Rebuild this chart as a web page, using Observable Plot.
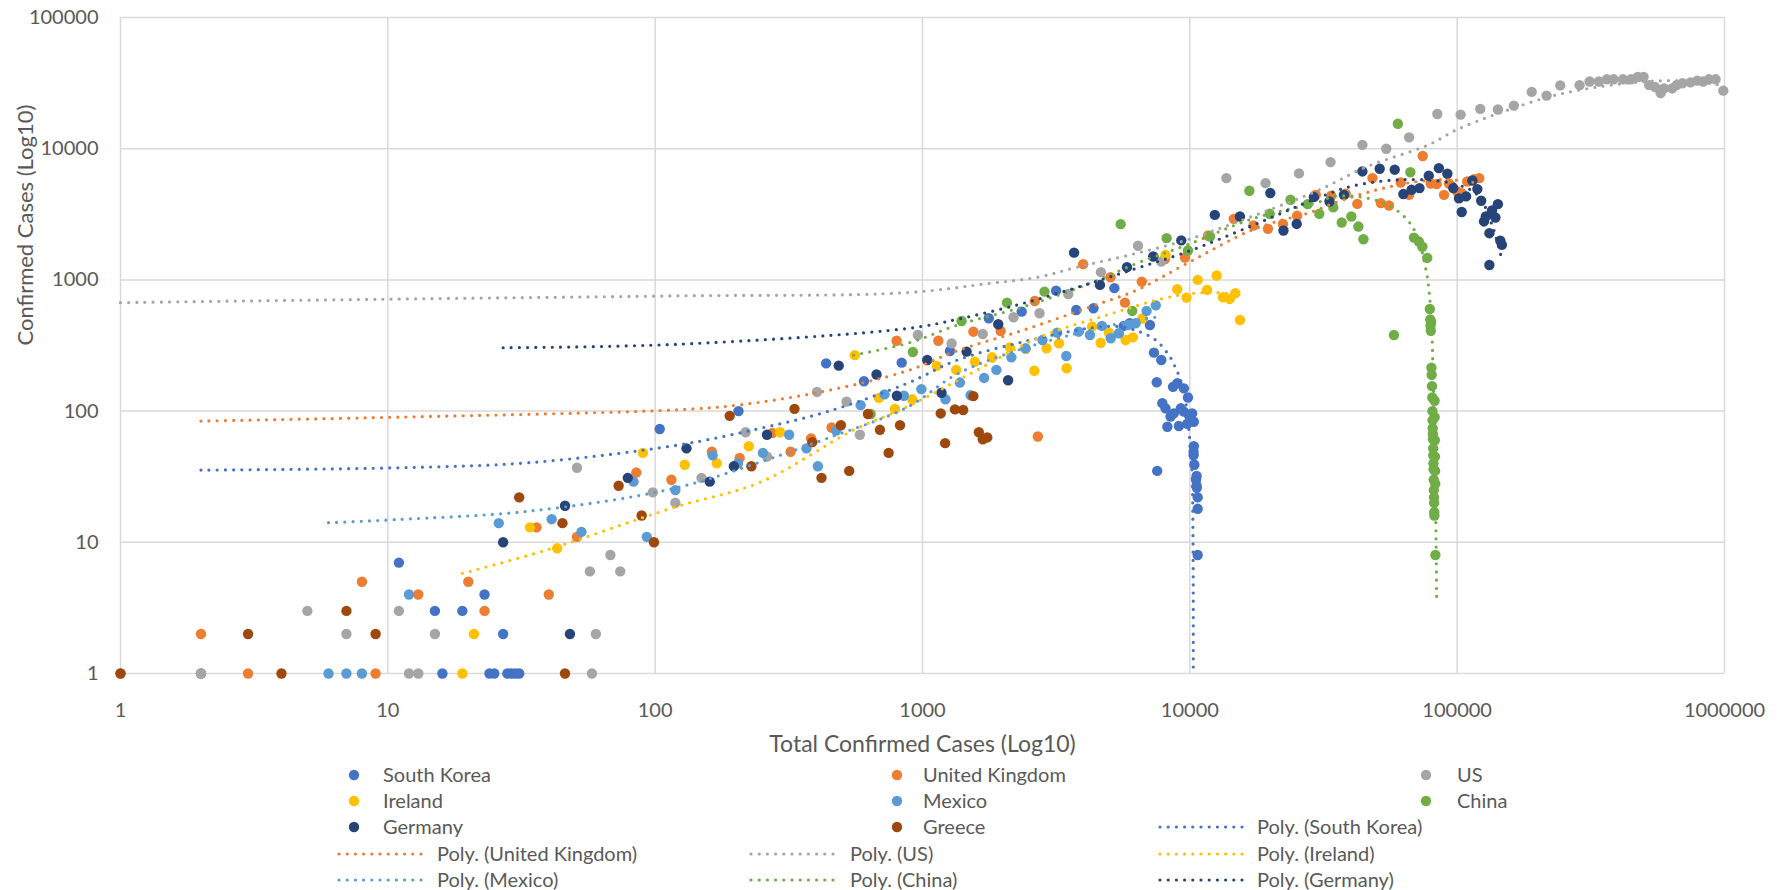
<!DOCTYPE html>
<html><head><meta charset="utf-8">
<script src="https://cdn.jsdelivr.net/npm/d3@7"></script>
<script src="https://cdn.jsdelivr.net/npm/@observablehq/plot@0.6"></script>
<style>
body{margin:0;background:#fff;}
#wrap{width:1792px;height:890px;position:relative;overflow:hidden;background:#fff;font-family:Lato,"Open Sans",sans-serif;}
#legend{position:absolute;left:0;top:760px;}
</style></head><body><div id="wrap"></div>
<script>
const countries = ["South Korea","United Kingdom","US","Ireland","Mexico","China","Germany","Greece"];
const colors = ["#4472C4","#ED7D31","#A5A5A5","#FFC000","#5B9BD5","#70AD47","#264478","#9E480E"];
const xTicks = [1,10,100,1000,10000,100000,1000000];
const yTicks = [1,10,100,1000,10000,100000];

// [total confirmed, new confirmed]
const southKorea = [[2,1],[16,1],[24,1],[25,1],[28,1],[29,1],[30,1],[31,1],[27,2],[15,3],[19,3],[23,4],[11,7],[104,73],[205,100],[436,231],[604,169],[836,234],[1267,287],[1770,510],[2350,573],[3160,828],[3760,590],[4360,608],[5220,865],[5660,446],[5960,467],[7090,453],[7340,279],[7820,245],[7520,166],[8650,153],[8980,163],[9500,149],[9840,127],[7890,115],[8110,105],[8470,91],[8240,76],[9100,77],[9500,99],[9930,93],[10200,96],[10350,83],[9780,80],[8710,96],[9250,105],[10350,54],[10330,49],[10330,46],[10400,39],[10600,32],[10550,30],[10600,27],[10620,26],[10700,22],[10700,18],[7550,35],[10700,8]];
const unitedKingdom = [[2,2],[3,1],[8,5],[9,1],[13,4],[20,5],[23,3],[36,13],[40,4],[51,11],[85,34],[115,30],[163,49],[207,44],[274,68],[321,49],[383,62],[457,75],[800,344],[1146,344],[1550,403],[1960,408],[2630,690],[2700,64],[3990,1318],[5050,1048],[5720,671],[6610,971],[8070,1440],[9590,1480],[11700,2180],[14600,2920],[17300,2600],[19600,2450],[22300,2670],[25200,3080],[29600,4450],[33800,4380],[38300,4530],[42300,3800],[48200,5970],[51800,3850],[55600,3690],[61500,5530],[66100,4450],[74300,8790],[79600,5430],[83800,5370],[89300,4450],[93200,5430],[100000,4720],[104000,4580],[109000,5620],[116000,5860],[121000,5970]];
const us = [[1,1],[2,1],[5,3],[7,2],[11,3],[12,1],[13,1],[15,2],[51,37],[57,6],[58,1],[60,2],[68,8],[74,6],[98,24],[119,20],[149,31],[218,69],[262,45],[403,140],[520,118],[583,66],[961,380],[1285,328],[1680,387],[2190,519],[2740,557],[3510,781],[4650,1146],[6400,1820],[7820,1380],[13700,5970],[19200,5470],[25600,6480],[33600,7900],[44200,10700],[54300,10000],[66100,12200],[84300,18400],[103000,18200],[122000,20100],[142000,19900],[163000,21300],[190000,27100],[216000,25400],[243000,30400],[287000,30500],[313000,32500],[339000,32500],[363000,33800],[385000,33800],[417000,33800],[447000,33800],[474000,35200],[498000,35200],[523000,30500],[550000,29500],[577000,26600],[594000,28800],[637000,28800],[662000,30500],[696000,31500],[746000,32000],[791000,33000],[832000,32500],[874000,33800],[926000,33800],[990000,27700]];
const ireland = [[19,1],[21,2],[34,13],[43,9],[90,48],[129,39],[170,40],[224,54],[293,69],[558,267],[687,126],[788,104],[914,123],[1130,221],[1337,206],[1570,238],[1820,257],[2120,306],[2430,298],[2620,203],[2910,301],[3240,328],[3460,212],[4310,440],[4640,332],[4980,396],[5750,348],[6120,365],[6640,508],[8110,1550],[8970,849],[9720,733],[10700,1000],[11600,839],[12600,1080],[13300,738],[14100,716],[14800,791],[15400,495]];
const mexico = [[6,1],[7,1],[8,1],[12,4],[26,14],[41,15],[53,12],[83,29],[93,11],[119,25],[164,46],[204,40],[253,48],[317,66],[368,52],[406,38],[475,71],[587,111],[721,134],[852,131],[990,147],[1219,123],[1380,165],[1513,132],[1700,179],[1890,206],[2150,257],[2430,301],[2810,348],[3190,396],[3450,263],[3840,403],[4230,380],[4690,446],[5060,359],[5430,392],[5870,453],[6270,467],[6890,580],[7460,640]];
const china = [[640,95],[920,282],[1400,486],[2070,671],[2860,814],[5510,2660],[6090,580],[8190,2080],[9840,1675],[11900,2140],[16700,4780],[19900,3190],[23800,4080],[27600,3780],[30500,3190],[34400,3570],[37000,2740],[40200,3040],[42700,2550],[44600,2040],[58000,380],[60000,15500],[66800,6610],[68900,2100],[71900,1960],[74100,1790],[77300,1470],[79000,600],[79300,500],[79500,450],[79700,410],[79900,480],[80100,214],[80300,189],[80500,155],[80700,127],[80800,100],[80900,85],[81000,74],[81100,67],[81200,61],[81300,52],[81400,46],[81500,40],[81600,36],[81700,30],[81800,25],[81900,22],[82000,20],[82100,17],[82200,16],[82300,120],[82400,90],[82500,60],[82600,45],[82700,35],[82800,28],[82900,8]];
const germany = [[27,10],[46,19],[48,2],[79,31],[131,52],[160,29],[197,38],[262,66],[486,222],[673,190],[802,131],[1042,245],[1178,138],[1462,284],[1920,459],[2090,172],[3690,1615],[4610,916],[5820,1250],[7300,1507],[9290,2000],[12400,3130],[15400,3040],[20000,4590],[22400,2380],[25100,2670],[29100,4280],[33300,3960],[37700,4450],[44200,6710],[51300,7040],[58400,6920],[62900,4510],[67500,4860],[72300,5010],[78300,6220],[85400,7110],[91900,6440],[96700,5010],[101600,4180],[104000,3290],[108000,4330],[114000,5720],[119000,4920],[123000,4010],[126000,2790],[128000,3040],[132000,2270],[132000,1300],[135000,3380],[139000,2990],[142000,3780],[145000,1990],[147000,1850]];
const greece = [[1,1],[4,1],[3,2],[7,3],[9,2],[31,22],[45,14],[46,1],[73,27],[89,16],[99,10],[190,92],[229,38],[332,104],[387,58],[419,31],[495,78],[532,35],[625,95],[693,72],[747,48],[824,78],[1170,96],[1215,57],[1322,103],[1420,102],[1550,130],[1625,69],[1680,61],[1747,63]];

// polynomial trendlines
const trendSouthKorea = [[2,35.5],[11,37],[34,40.5],[121,55],[248,74],[440,99],[877,163],[1350,245],[2390,338],[4250,430],[5500,440],[6540,400],[7450,348],[8350,267],[8900,208],[9240,172],[9700,110],[9930,70],[10100,45],[10200,33],[10260,16.6],[10290,6.9],[10300,2.9],[10305,1]];
const trendUnitedKingdom = [[2,84],[11.2,90],[117,102],[203,111],[416,140],[877,203],[1350,289],[2390,415],[4250,625],[6350,839],[9780,1340],[17400,2440],[29000,3330],[34600,3850],[50200,4860],[71000,5620],[94600,5800],[121000,5450]];
const trendUS = [[1,671],[9.4,712],[117,755],[870,800],[1800,944],[2690,1048],[3790,1250],[6350,1600],[9780,2020],[13000,2480],[20600,3520],[30800,4900],[46100,7320],[77300,10600],[100000,14000],[146000,18900],[237000,25800],[400000,31000],[600000,33000],[800000,32500],[990000,30000]];
const trendIreland = [[19,5.8],[39,8.7],[117,18.4],[248,28.8],[554,72],[877,108],[1560,200],[2770,369],[4910,541],[8000,725],[10400,791],[12600,800],[15400,768]];
const trendMexico = [[6,14.1],[10.8,14.9],[34,17.3],[117,25.7],[248,41],[440,62],[877,107],[1350,192],[2390,301],[4250,415],[6350,495],[7460,520]];
const trendChina = [[553,267],[902,334],[1350,453],[2390,625],[4250,944],[6350,1340],[9780,1850],[17400,2950],[30000,3890],[34600,4320],[46100,4200],[56400,3630],[65100,2870],[71000,2140],[76200,1230],[78000,916],[80000,500],[81500,150],[82500,40],[83300,12],[83800,3.6]];
const trendGermany = [[27,304],[121,323],[890,428],[1350,501],[2390,664],[4250,944],[6350,1230],[9780,1640],[17400,2630],[30000,4200],[39900,5150],[61500,5800],[94600,5470],[119000,4450],[135000,2630],[146000,1510]];
const trendGreece = [[1,3.9],[3,4.2],[7,4.8],[11.2,5.3],[19.2,6.5],[39,9],[70,12.7],[117,18.4],[248,34],[440,50],[782,76],[1170,91],[1320,90],[1510,84],[1680,78],[1750,75]];

const series = [southKorea, unitedKingdom, us, ireland, mexico, china, germany, greece];
const trends = [trendSouthKorea, trendUnitedKingdom, trendUS, trendIreland, trendMexico, trendChina, trendGermany];

const dotMarks = series.map((s, i) => Plot.dot(s, {x: d => d[0], y: d => d[1], r: 5.2, fill: colors[i], stroke: "none"}));
const trendMarks = trends.map((t, i) => Plot.line(t, {x: d => d[0], y: d => d[1], stroke: colors[i], strokeWidth: 3.2, strokeDasharray: "0 8.2", strokeLinecap: "round", curve: "catmull-rom"}));

const chart = Plot.plot({
  width: 1792, height: 760,
  marginLeft: 120, marginRight: 68, marginTop: 17, marginBottom: 87,
  x: {type: "log", domain: [1, 1e6]},
  y: {type: "log", domain: [1, 1e5]},
  style: {fontFamily: "Lato, 'Open Sans', sans-serif", background: "#fff", overflow: "visible"},
  marks: [
    Plot.gridX(xTicks, {stroke: "#d9d9d9", strokeOpacity: 1, strokeWidth: 1.5}),
    Plot.gridY(yTicks, {stroke: "#d9d9d9", strokeOpacity: 1, strokeWidth: 1.5}),
    Plot.axisX(xTicks, {tickSize: 0, tickPadding: 29, tickFormat: d => String(d), fontSize: 20, fill: "#595959", label: null}),
    Plot.axisY(yTicks, {tickSize: 0, tickPadding: 22, tickFormat: d => String(d), fontSize: 20, fill: "#595959", label: null}),
    ...dotMarks,
    ...trendMarks,
    Plot.text(["Total Confirmed Cases (Log10)"], {frameAnchor: "bottom", dy: 78, fontSize: 23, fill: "#595959"}),
    Plot.text(["Confirmed Cases (Log10)"], {frameAnchor: "left", dx: -95, rotate: -90, fontSize: 22, fill: "#595959"})
  ]
});
const wrap = document.getElementById("wrap");
wrap.appendChild(chart);

// legend
const ns = "http://www.w3.org/2000/svg";
const leg = document.createElementNS(ns, "svg");
leg.setAttribute("id", "legend");
leg.setAttribute("width", 1792);
leg.setAttribute("height", 130);
const rowsY = [15, 41, 67, 94, 120];
const entries = [
  {t: "South Korea", c: 0, kind: "dot", r: 0, col: 0},
  {t: "United Kingdom", c: 1, kind: "dot", r: 0, col: 1},
  {t: "US", c: 2, kind: "dot", r: 0, col: 2},
  {t: "Ireland", c: 3, kind: "dot", r: 1, col: 0},
  {t: "Mexico", c: 4, kind: "dot", r: 1, col: 1},
  {t: "China", c: 5, kind: "dot", r: 1, col: 2},
  {t: "Germany", c: 6, kind: "dot", r: 2, col: 0},
  {t: "Greece", c: 7, kind: "dot", r: 2, col: 1},
  {t: "Poly. (South Korea)", c: 0, kind: "line", r: 2, col: 2},
  {t: "Poly. (United Kingdom)", c: 1, kind: "line", r: 3, col: 0},
  {t: "Poly. (US)", c: 2, kind: "line", r: 3, col: 1},
  {t: "Poly. (Ireland)", c: 3, kind: "line", r: 3, col: 2},
  {t: "Poly. (Mexico)", c: 4, kind: "line", r: 4, col: 0},
  {t: "Poly. (China)", c: 5, kind: "line", r: 4, col: 1},
  {t: "Poly. (Germany)", c: 6, kind: "line", r: 4, col: 2}
];
const dotCol = [{m: 354, t: 383}, {m: 897, t: 923}, {m: 1426, t: 1457}];
const lineCol = [{a: 339, b: 423, t: 437}, {a: 751, b: 835, t: 850}, {a: 1160, b: 1244, t: 1257}];
for (const e of entries) {
  const y = rowsY[e.r];
  let tx;
  if (e.kind === "dot") {
    const c = document.createElementNS(ns, "circle");
    c.setAttribute("cx", dotCol[e.col].m); c.setAttribute("cy", y); c.setAttribute("r", 5.2);
    c.setAttribute("fill", colors[e.c]);
    leg.appendChild(c);
    tx = dotCol[e.col].t;
  } else {
    const l = document.createElementNS(ns, "line");
    l.setAttribute("x1", lineCol[e.col].a); l.setAttribute("x2", lineCol[e.col].b);
    l.setAttribute("y1", y); l.setAttribute("y2", y);
    l.setAttribute("stroke", colors[e.c]); l.setAttribute("stroke-width", 3.2);
    l.setAttribute("stroke-dasharray", "0 8.2"); l.setAttribute("stroke-linecap", "round");
    leg.appendChild(l);
    tx = lineCol[e.col].t;
  }
  const t = document.createElementNS(ns, "text");
  t.setAttribute("x", tx); t.setAttribute("y", y);
  t.setAttribute("dy", "0.35em");
  t.setAttribute("font-size", 20);
  t.setAttribute("font-family", "Lato, 'Open Sans', sans-serif");
  t.setAttribute("fill", "#595959");
  t.textContent = e.t;
  leg.appendChild(t);
}
wrap.appendChild(leg);
</script>
</body></html>
